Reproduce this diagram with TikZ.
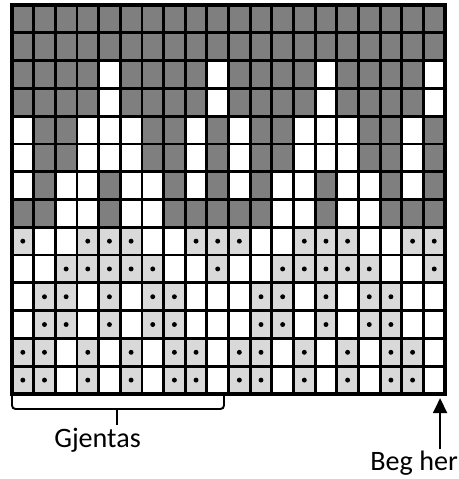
\documentclass[tikz,border=0pt]{standalone}
\usepackage{fontspec}
\setmainfont{Carlito}
\usetikzlibrary{arrows.meta}
\definecolor{knitDark}{RGB}{127,127,127}
\definecolor{knitLight}{RGB}{217,217,217}

\begin{document}
\begin{tikzpicture}[x=0.433cm, y=-0.5556cm, font=\fontsize{16}{19}\selectfont,
  cell0/.style={fill=white}, cell1/.style={fill=knitDark}, cell2/.style={fill=knitLight},
  gridline/.style={line width=1.6pt}, braceline/.style={line width=1.1pt, rounded corners=2pt}]
  \useasboundingbox[fill=white] (-0.554,-0.18) rectangle (20.6,17.06);

  % chart cells: one 10-stitch repeat, drawn twice
  \foreach \rowvals [count=\r from 0] in {
    {1,1,1,1,1,1,1,1,1,1}, {1,1,1,1,1,1,1,1,1,1},
    {1,1,1,1,0,1,1,1,1,0}, {1,1,1,1,0,1,1,1,1,0},
    {0,1,1,0,0,0,1,1,0,1}, {0,1,1,0,0,0,1,1,0,1},
    {0,1,0,0,1,0,0,1,0,1}, {1,1,0,0,1,0,0,1,1,1},
    {2,0,0,2,2,2,0,0,2,2}, {0,0,2,2,2,2,2,0,0,2},
    {0,2,2,0,2,0,2,2,0,0}, {0,2,2,0,2,0,2,2,0,0},
    {2,2,0,2,0,2,0,2,2,0}, {2,2,0,2,0,2,0,2,2,0}}{
    \foreach \v [count=\k from 0] in \rowvals {
      \foreach \rep in {0,10} {
        \path[cell\v] (\k+\rep,\r) rectangle ++(1,1);
        \ifnum\v=2 \fill (\k+\rep+0.5,\r+0.5) circle (1.4pt); \fi
      }
    }
  }

  % grid lines
  \foreach \i in {1,...,19} \draw[gridline] (\i,0) -- (\i,14);
  \foreach \j in {1,...,13} \draw[gridline] (0,\j) -- (20,\j);
  \draw[line width=2pt] (0,0) rectangle (20,14);

  % repeat brace
  \coordinate (repL) at (0,14.04);
  \coordinate (repR) at (9.79,14.04);
  \coordinate (repTip) at (4.85,15.12);
  \draw[braceline] (repL) -- ++(0,0.5) -| (repR);
  \draw[line width=1.1pt] (repTip) -- ++(0,-0.6);
  \node[anchor=base] (gjentas) at (3.95,15.91) {Gjentas};

  % start arrow
  \node[anchor=base, inner sep=1pt] (beg) at (18.57,16.77) {Beg her};
  \coordinate (begTip) at (19.77,14.15);
  \draw[line width=0.9pt, -{Triangle[length=8.5pt,width=8pt]}] (beg.north -| begTip) -- (begTip);
\end{tikzpicture}
\end{document}
